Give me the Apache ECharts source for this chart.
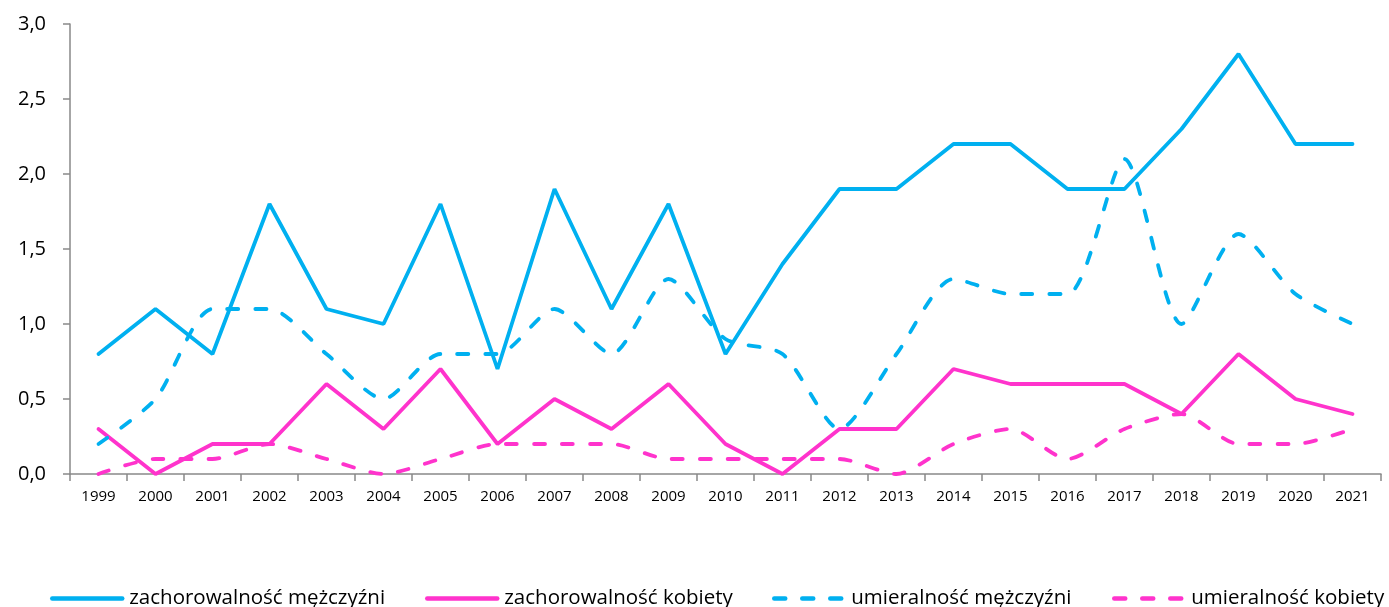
<!DOCTYPE html>
<html>
<head>
<meta charset="utf-8">
<script src="https://cdn.jsdelivr.net/npm/echarts@6/dist/echarts.min.js"></script>
<style>
  html, body { margin: 0; padding: 0; background: #fff; }
  #chart_box { width: 1389px; height: 607px; }
</style>
</head>
<body>
<div id="chart_box"></div>
<script>
// dane
var lata = ['1999','2000','2001','2002','2003','2004','2005','2006','2007','2008','2009','2010',
            '2011','2012','2013','2014','2015','2016','2017','2018','2019','2020','2021'];
var nazwy = ['zachorowalność mężczyźni', 'zachorowalność kobiety', 'umieralność mężczyźni', 'umieralność kobiety'];
var zachMezczyzni = [0.8,1.1,0.8,1.8,1.1,1.0,1.8,0.7,1.9,1.1,1.8,0.8,1.4,1.9,1.9,2.2,2.2,1.9,1.9,2.3,2.8,2.2,2.2];
var zachKobiety   = [0.3,0.0,0.2,0.2,0.6,0.3,0.7,0.2,0.5,0.3,0.6,0.2,0.0,0.3,0.3,0.7,0.6,0.6,0.6,0.4,0.8,0.5,0.4];
var umMezczyzni   = [0.2,0.5,1.1,1.1,0.8,0.5,0.8,0.8,1.1,0.8,1.3,0.9,0.8,0.3,0.8,1.3,1.2,1.2,2.1,1.0,1.6,1.2,1.0];
var umKobiety     = [0.0,0.1,0.1,0.2,0.1,0.0,0.1,0.2,0.2,0.2,0.1,0.1,0.1,0.1,0.0,0.2,0.3,0.1,0.3,0.4,0.2,0.2,0.3];

var niebieski = '#00B0F0';
var rozowy = '#FF33CC';
var szary = '#898989';
var czcionka = '"Open Sans", "Liberation Sans", sans-serif';

var myChart = echarts.init(document.getElementById('chart_box'));

function seria(nazwa, dane, kolor, przerywana) {
    return {
        name: nazwa,
        type: 'line',
        data: dane,
        symbol: 'none',
        smooth: przerywana ? 0.25 : false,
        lineStyle: { color: kolor, width: 3.8, type: przerywana ? [11, 17] : 'solid', cap: 'round' },
        itemStyle: { color: kolor }
    };
}

// jedna legenda na kazda serie, zeby ustawic pozycje jak w oryginale
var legendyX = [45, 420, 767, 1107];
function legenda(i) {
    return {
        bottom: -7,
        left: legendyX[i],
        itemWidth: 70,
        itemHeight: 10,
        itemStyle: { opacity: 0 },
        lineStyle: { width: 4.5 },
        textStyle: { fontFamily: czcionka, fontSize: 20.5, color: '#000', padding: [0, 0, 0, 2] },
        data: [nazwy[i]]
    };
}

var option = {
    animation: false,
    grid: { left: 70, right: 8, top: 24, bottom: 133 },
    legend: [legenda(0), legenda(1), legenda(2), legenda(3)],
    xAxis: {
        type: 'category',
        data: lata,
        boundaryGap: true,
        axisLine: { lineStyle: { color: szary, width: 1.5 } },
        axisTick: { show: true, length: 7, lineStyle: { color: szary, width: 1.5 } },
        axisLabel: { color: '#000', fontFamily: czcionka, fontSize: 15, margin: 15 }
    },
    yAxis: {
        type: 'value',
        min: 0,
        max: 3,
        interval: 0.5,
        splitLine: { show: false },
        axisLine: { show: true, lineStyle: { color: szary, width: 1.5 } },
        axisTick: { show: true, length: 7, lineStyle: { color: szary, width: 1.5 } },
        axisLabel: {
            color: '#000', fontFamily: czcionka, fontSize: 20, margin: 24,
            formatter: function (v) { return v.toFixed(1).replace('.', ','); }
        }
    },
    series: [
        seria(nazwy[0], zachMezczyzni, niebieski, false),
        seria(nazwy[1], zachKobiety, rozowy, false),
        seria(nazwy[2], umMezczyzni, niebieski, true),
        seria(nazwy[3], umKobiety, rozowy, true)
    ]
};

myChart.setOption(option);
</script>
</body>
</html>
